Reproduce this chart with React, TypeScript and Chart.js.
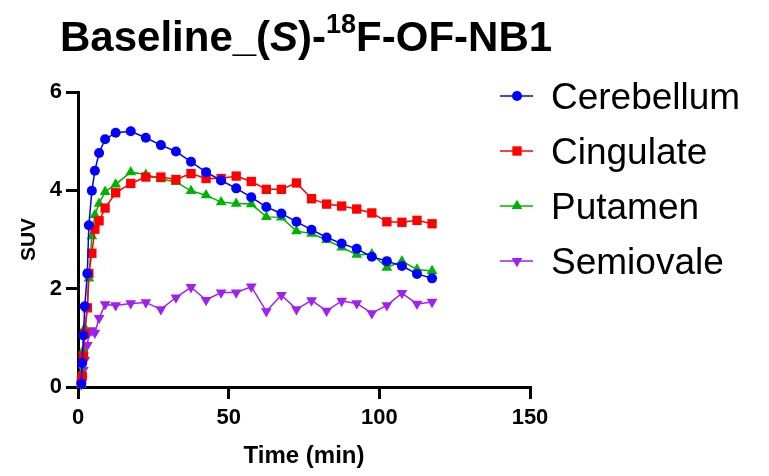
import React, { useEffect, useRef } from 'react';
import { Chart, registerables } from 'chart.js';

Chart.register(...registerables);

const FONT = 'Arial, "Liberation Sans", Helvetica, sans-serif';

// Time points (min)
const times = [1.1, 1.4, 1.8, 2.25, 3.1, 3.6, 4.6, 5.6, 7.0, 9.0, 12.5, 17.5, 22.5, 27.5, 32.5, 37.5, 42.5, 47.5, 52.5, 57.5, 62.5, 67.5, 72.5, 77.5, 82.5, 87.5, 92.5, 97.5, 102.5, 107.5, 112.5, 117.5];

// SUV values
const cerebellum = [0.07, 0.49, 1.05, 1.64, 2.31, 3.29, 3.99, 4.40, 4.76, 5.04, 5.17, 5.20, 5.07, 4.92, 4.79, 4.58, 4.37, 4.20, 4.04, 3.86, 3.66, 3.53, 3.36, 3.20, 3.04, 2.92, 2.81, 2.65, 2.56, 2.46, 2.30, 2.21];
const cingulate = [0.10, 0.22, 0.63, 1.09, 1.61, 2.31, 2.72, 3.21, 3.38, 3.64, 3.95, 4.14, 4.27, 4.27, 4.22, 4.34, 4.24, 4.24, 4.29, 4.18, 4.02, 4.02, 4.15, 3.83, 3.72, 3.68, 3.62, 3.54, 3.36, 3.35, 3.39, 3.32];
const putamen = [0.05, 0.30, 0.75, 1.20, 1.61, 2.21, 3.07, 3.50, 3.73, 3.97, 4.12, 4.37, 4.32, 4.23, 4.17, 3.99, 3.90, 3.76, 3.73, 3.72, 3.46, 3.45, 3.17, 3.12, 2.99, 2.84, 2.69, 2.70, 2.43, 2.56, 2.39, 2.36];
const semiovale = [0.05, 0.15, 0.35, 0.55, 0.85, 1.10, 1.15, 1.10, 1.40, 1.68, 1.66, 1.70, 1.72, 1.58, 1.82, 2.03, 1.77, 1.92, 1.92, 2.04, 1.54, 1.87, 1.58, 1.76, 1.55, 1.75, 1.70, 1.50, 1.66, 1.91, 1.69, 1.73];

const seriesNames = ['Cerebellum', 'Cingulate', 'Putamen', 'Semiovale'];
const seriesValues = [cerebellum, cingulate, putamen, semiovale];
const seriesColors = ['#0000FF', '#FF0000', '#00B300', '#A020F0'];
const seriesMarkers = ['circle', 'rect', 'triangle', 'triangleDown'];
const markerRadius = [5, 6.6, 6.2, 6.2];

const xTicks = [0, 50, 100, 150];
const yTicks = [0, 2, 4, 6];

const titleParts = [
  { text: 'Baseline_(', style: 'normal', sup: false },
  { text: 'S', style: 'italic', sup: false },
  { text: ')-', style: 'normal', sup: false },
  { text: '18', style: 'normal', sup: true },
  { text: 'F-OF-NB1', style: 'normal', sup: false },
];
const xTitle = 'Time (min)';
const yTitle = 'SUV';

function drawMarker(ctx: CanvasRenderingContext2D, style: string, x: number, y: number, r: number, color: string) {
  ctx.save();
  ctx.fillStyle = color;
  ctx.beginPath();
  if (style === 'circle') {
    ctx.arc(x, y, r, 0, Math.PI * 2);
  } else if (style === 'rect') {
    const s = r * Math.SQRT1_2;
    ctx.rect(x - s, y - s, 2 * s, 2 * s);
  } else if (style === 'triangle') {
    ctx.moveTo(x, y - r);
    ctx.lineTo(x + 0.866 * r, y + 0.5 * r);
    ctx.lineTo(x - 0.866 * r, y + 0.5 * r);
    ctx.closePath();
  } else {
    ctx.moveTo(x, y + r);
    ctx.lineTo(x + 0.866 * r, y - 0.5 * r);
    ctx.lineTo(x - 0.866 * r, y - 0.5 * r);
    ctx.closePath();
  }
  ctx.fill();
  ctx.restore();
}

const decorPlugin = {
  id: 'decor',
  afterDraw(chart: any) {
    const ctx: CanvasRenderingContext2D = chart.ctx;
    const area = chart.chartArea;
    ctx.save();
    ctx.fillStyle = '#000';
    // Title
    let x = 60;
    const baseY = 51;
    ctx.textBaseline = 'alphabetic';
    ctx.textAlign = 'left';
    for (const p of titleParts) {
      const size = p.sup ? 27 : 42;
      ctx.font = `${p.style === 'italic' ? 'italic ' : ''}bold ${size}px ${FONT}`;
      ctx.fillText(p.text, x, p.sup ? baseY - 18 : baseY);
      x += ctx.measureText(p.text).width;
    }
    // X axis title
    ctx.font = `bold 24px ${FONT}`;
    ctx.textAlign = 'center';
    ctx.fillText(xTitle, (area.left + area.right) / 2, 463);
    // Y axis title
    ctx.save();
    ctx.translate(35, (area.top + area.bottom) / 2);
    ctx.rotate(-Math.PI / 2);
    ctx.font = `bold 21px ${FONT}`;
    ctx.textAlign = 'center';
    ctx.fillText(yTitle, 0, 0);
    ctx.restore();
    // Legend
    ctx.textAlign = 'left';
    ctx.font = `37px ${FONT}`;
    for (let i = 0; i < seriesNames.length; i++) {
      const cy = 96 + i * 55;
      ctx.strokeStyle = seriesColors[i];
      ctx.lineWidth = 1.5;
      ctx.beginPath();
      ctx.moveTo(500, cy);
      ctx.lineTo(533, cy);
      ctx.stroke();
      drawMarker(ctx, seriesMarkers[i], 517, cy, markerRadius[i], seriesColors[i]);
      ctx.fillStyle = '#000';
      ctx.fillText(seriesNames[i], 551, cy + 13);
    }
    ctx.restore();
  },
};

export default function App() {
  const canvasRef = useRef<HTMLCanvasElement | null>(null);

  useEffect(() => {
    const canvas = canvasRef.current;
    if (!canvas) return;
    const datasets = seriesNames.map((name, i) => ({
      label: name,
      data: times.map((t, j) => ({ x: t, y: seriesValues[i][j] })),
      showLine: true,
      borderColor: seriesColors[i],
      backgroundColor: seriesColors[i],
      borderWidth: 1.5,
      pointStyle: seriesMarkers[i] === 'triangleDown' ? 'triangle' : seriesMarkers[i],
      rotation: seriesMarkers[i] === 'triangleDown' ? 180 : 0,
      pointRotation: seriesMarkers[i] === 'triangleDown' ? 180 : 0,
      pointRadius: markerRadius[i],
      pointBorderWidth: 0,
      pointBackgroundColor: seriesColors[i],
      pointBorderColor: seriesColors[i],
      tension: 0,
      clip: false,
    }));

    const tickFont = { family: FONT, size: 22, weight: 'bold' as const };

    const chart = new Chart(canvas, {
      type: 'scatter',
      data: { datasets },
      plugins: [decorPlugin],
      options: {
        animation: false,
        responsive: false,
        maintainAspectRatio: false,
        devicePixelRatio: 1,
        layout: { padding: { top: 92, left: 0, right: 239, bottom: 0 } },
        plugins: {
          legend: { display: false },
          title: { display: false },
          tooltip: { enabled: false },
        },
        scales: {
          x: {
            type: 'linear',
            min: 0,
            max: 150,
            afterBuildTicks: (s: any) => {
              s.ticks = xTicks.map((v) => ({ value: v }));
            },
            ticks: { font: tickFont, color: '#000', padding: 6, maxRotation: 0, autoSkip: false },
            grid: {
              display: true,
              drawOnChartArea: false,
              drawTicks: true,
              tickLength: 12,
              tickWidth: 3,
              tickColor: '#000',
              color: '#000',
              lineWidth: 3,
            },
            border: { display: true, color: '#000', width: 3 },
            afterFit: (s: any) => {
              s.height = 89;
            },
          },
          y: {
            type: 'linear',
            min: 0,
            max: 6,
            afterBuildTicks: (s: any) => {
              s.ticks = yTicks.map((v) => ({ value: v }));
            },
            ticks: { font: tickFont, color: '#000', padding: 4, autoSkip: false },
            grid: {
              display: true,
              drawOnChartArea: false,
              drawTicks: true,
              tickLength: 12,
              tickWidth: 3,
              tickColor: '#000',
              color: '#000',
              lineWidth: 3,
            },
            border: { display: true, color: '#000', width: 3 },
            afterFit: (s: any) => {
              s.width = 78;
            },
          },
        },
      },
    } as any);

    return () => {
      chart.destroy();
    };
  }, []);

  return (
    <div style={{ position: 'fixed', left: 0, top: 0, width: 769, height: 476, background: '#fff' }}>
      <canvas ref={canvasRef} width={769} height={476} style={{ width: 769, height: 476, display: 'block' }} />
    </div>
  );
}
